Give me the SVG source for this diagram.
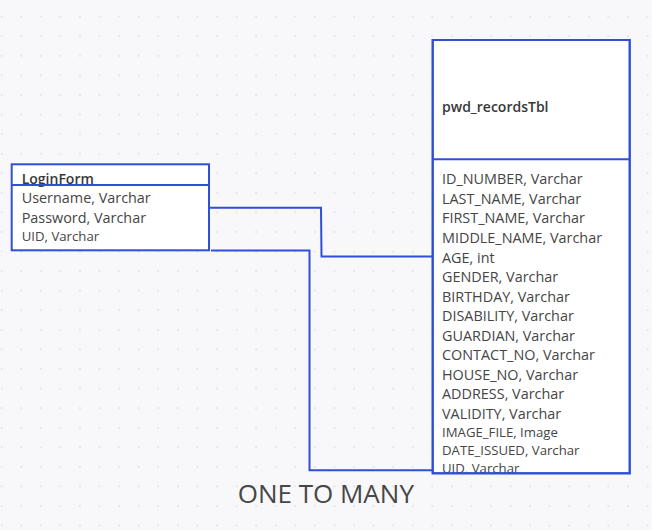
<svg xmlns="http://www.w3.org/2000/svg" width="652" height="530" viewBox="0 0 652 530">
  <defs>
    <pattern id="dots" patternUnits="userSpaceOnUse" x="-8.08" y="6.9" width="19.57" height="19.57">
      <circle cx="9.785" cy="9.785" r="1.1" fill="#e2e2e8"/>
    </pattern>
    <clipPath id="pwdClip">
      <rect x="432" y="40" width="198" height="433"/>
    </clipPath>
  </defs>
  <style>
    .box { fill: #ffffff; stroke: #2f4fd6; stroke-width: 2; }
    .div { stroke: #2f4fd6; stroke-width: 2; }
    .title { font-family: "Open Sans", "Noto Sans", sans-serif; font-size: 14px; font-weight: 600; fill: #383838; }
    .row { font-family: "Open Sans", "Noto Sans", sans-serif; font-size: 14.4px; fill: #454545; }
    .small { font-size: 13.2px; }
    .conn { fill: none; stroke: #2f4fd6; stroke-width: 2; }
    .caption { font-family: "Open Sans", "Noto Sans", sans-serif; font-size: 26px; fill: #474747; }
  </style>
  <rect width="652" height="530" fill="#f8f8fb"/>
  <rect width="652" height="530" fill="url(#dots)"/>

  <g id="connectors">
    <path class="conn" d="M209 207.7 L321 207.7 L321.5 256.5 L432.5 256.5"/>
    <path class="conn" d="M211 250.5 L309.5 250.5 L309.5 470.3 L432.5 470.3"/>
  </g>

  <g id="loginform">
    <rect class="box" x="11.7" y="164.3" width="197.3" height="86"/>
    <text class="title" x="21.7" y="183.5">LoginForm</text>
    <line class="div" x1="11.7" y1="185" x2="209" y2="185"/>
    <text class="row" x="21.7" y="203.3">Username, Varchar</text>
    <text class="row" x="21.7" y="222.7">Password, Varchar</text>
    <text class="row small" x="21.7" y="240.7">UID, Varchar</text>
  </g>

  <g id="pwd_recordsTbl">
    <rect class="box" x="432.7" y="40" width="197" height="433.3"/>
    <text class="title" x="442" y="111.7">pwd_recordsTbl</text>
    <line class="div" x1="432.7" y1="159.3" x2="629.7" y2="159.3"/>
    <g clip-path="url(#pwdClip)">
      <text class="row" x="442" y="184.3">ID_NUMBER, Varchar</text>
      <text class="row" x="442" y="204">LAST_NAME, Varchar</text>
      <text class="row" x="442" y="223.3">FIRST_NAME, Varchar</text>
      <text class="row" x="442" y="243.3">MIDDLE_NAME, Varchar</text>
      <text class="row" x="442" y="262.7">AGE, int</text>
      <text class="row" x="442" y="282.3">GENDER, Varchar</text>
      <text class="row" x="442" y="301.7">BIRTHDAY, Varchar</text>
      <text class="row" x="442" y="321">DISABILITY, Varchar</text>
      <text class="row" x="442" y="340.7">GUARDIAN, Varchar</text>
      <text class="row" x="442" y="360">CONTACT_NO, Varchar</text>
      <text class="row" x="442" y="380">HOUSE_NO, Varchar</text>
      <text class="row" x="442" y="399.3">ADDRESS, Varchar</text>
      <text class="row" x="442" y="419">VALIDITY, Varchar</text>
      <text class="row small" x="442" y="436.7">IMAGE_FILE, Image</text>
      <text class="row small" x="442" y="455">DATE_ISSUED, Varchar</text>
      <text class="row small" x="442" y="472.7">UID, Varchar</text>
    </g>
    <rect x="432.7" y="40" width="197" height="433.3" fill="none" stroke="#2f4fd6" stroke-width="2"/>
  </g>

  <text class="caption" x="237.7" y="502.7">ONE TO MANY</text>
</svg>
